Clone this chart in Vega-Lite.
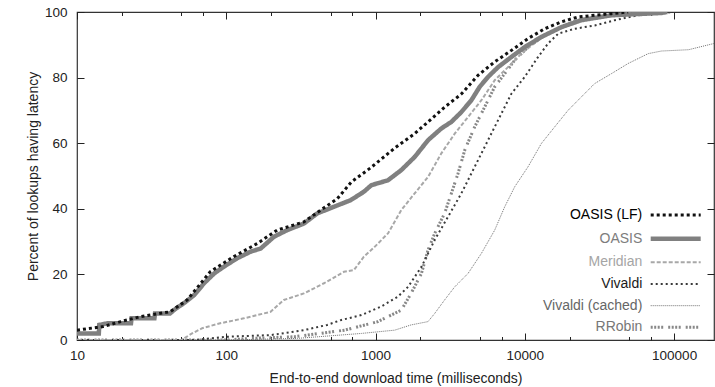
{
  "$schema": "https://vega.github.io/schema/vega-lite/v6.json",
  "width": 637,
  "height": 328,
  "autosize": {"type": "none"},
  "padding": {"left": 77, "top": 12, "right": 1, "bottom": 47},
  "background": "white",
  "config": {
    "font": "Liberation Sans",
    "view": {"stroke": "#333", "strokeWidth": 1.2},
    "axis": {"domain": false, "grid": false, "labelFont": "Liberation Sans", "titleFont": "Liberation Sans", "labelColor": "#222", "titleColor": "#222", "tickColor": "#222", "labelFontSize": 13.5, "titleFontSize": 14, "titleFontWeight": "normal"}
  },
  "data": {"values": [
    {"s":"Vivaldi (cached)","t":10,"p":0},{"s":"Vivaldi (cached)","t":100,"p":0},{"s":"Vivaldi (cached)","t":300,"p":0.5},{"s":"Vivaldi (cached)","t":803,"p":2},{"s":"Vivaldi (cached)","t":1343,"p":3},{"s":"Vivaldi (cached)","t":1730,"p":4.6},{"s":"Vivaldi (cached)","t":2245,"p":5.6},{"s":"Vivaldi (cached)","t":2490,"p":8.1},{"s":"Vivaldi (cached)","t":2900,"p":12.2},{"s":"Vivaldi (cached)","t":3390,"p":16.2},{"s":"Vivaldi (cached)","t":4166,"p":20.3},{"s":"Vivaldi (cached)","t":5117,"p":26.4},{"s":"Vivaldi (cached)","t":6283,"p":33.5},{"s":"Vivaldi (cached)","t":7330,"p":40.6},{"s":"Vivaldi (cached)","t":8550,"p":46.7},{"s":"Vivaldi (cached)","t":10500,"p":52.8},{"s":"Vivaldi (cached)","t":12900,"p":59.9},{"s":"Vivaldi (cached)","t":15860,"p":65},{"s":"Vivaldi (cached)","t":19460,"p":70},{"s":"Vivaldi (cached)","t":23900,"p":74.1},{"s":"Vivaldi (cached)","t":29400,"p":78.2},{"s":"Vivaldi (cached)","t":38000,"p":81.2},{"s":"Vivaldi (cached)","t":49200,"p":84.3},{"s":"Vivaldi (cached)","t":67000,"p":87.3},{"s":"Vivaldi (cached)","t":82200,"p":88.1},{"s":"Vivaldi (cached)","t":125000,"p":88.5},{"s":"Vivaldi (cached)","t":185000,"p":90.4},
    {"s":"RRobin","t":10,"p":0},{"s":"RRobin","t":100,"p":0},{"s":"RRobin","t":150,"p":0.5},{"s":"RRobin","t":287,"p":1},{"s":"RRobin","t":620,"p":3},{"s":"RRobin","t":1035,"p":5.6},{"s":"RRobin","t":1487,"p":9.1},{"s":"RRobin","t":1730,"p":14.2},{"s":"RRobin","t":2030,"p":20.3},{"s":"RRobin","t":2245,"p":27.4},{"s":"RRobin","t":2490,"p":32.5},{"s":"RRobin","t":2900,"p":38.6},{"s":"RRobin","t":3220,"p":44.7},{"s":"RRobin","t":3570,"p":50.8},{"s":"RRobin","t":3960,"p":57.9},{"s":"RRobin","t":4615,"p":65},{"s":"RRobin","t":5390,"p":71.1},{"s":"RRobin","t":6283,"p":77.2},{"s":"RRobin","t":7330,"p":81.2},{"s":"RRobin","t":8550,"p":85.3},{"s":"RRobin","t":10500,"p":89.3},{"s":"RRobin","t":13600,"p":92.9},{"s":"RRobin","t":17600,"p":95.4},{"s":"RRobin","t":22700,"p":97.5},{"s":"RRobin","t":32600,"p":98.7},{"s":"RRobin","t":49200,"p":99.5},{"s":"RRobin","t":89800,"p":100},
    {"s":"Vivaldi","t":10,"p":0},{"s":"Vivaldi","t":60,"p":0},{"s":"Vivaldi","t":101,"p":1},{"s":"Vivaldi","t":198,"p":1.5},{"s":"Vivaldi","t":331,"p":3},{"s":"Vivaldi","t":474,"p":4.6},{"s":"Vivaldi","t":590,"p":6.1},{"s":"Vivaldi","t":803,"p":7.6},{"s":"Vivaldi","t":1090,"p":10.2},{"s":"Vivaldi","t":1411,"p":13.2},{"s":"Vivaldi","t":1650,"p":16.2},{"s":"Vivaldi","t":2030,"p":22.3},{"s":"Vivaldi","t":2490,"p":30.5},{"s":"Vivaldi","t":3060,"p":37.6},{"s":"Vivaldi","t":3757,"p":44.7},{"s":"Vivaldi","t":4615,"p":52.8},{"s":"Vivaldi","t":5666,"p":60.9},{"s":"Vivaldi","t":6960,"p":69},{"s":"Vivaldi","t":8130,"p":75.1},{"s":"Vivaldi","t":9980,"p":80.2},{"s":"Vivaldi","t":12270,"p":86.3},{"s":"Vivaldi","t":14310,"p":90.4},{"s":"Vivaldi","t":16740,"p":93.4},{"s":"Vivaldi","t":21600,"p":94.9},{"s":"Vivaldi","t":29400,"p":95.9},{"s":"Vivaldi","t":40000,"p":97.5},{"s":"Vivaldi","t":57400,"p":99},{"s":"Vivaldi","t":82200,"p":99.7},{"s":"Vivaldi","t":100000,"p":100},
    {"s":"Meridian","t":10,"p":0},{"s":"Meridian","t":50,"p":0},{"s":"Meridian","t":59,"p":2},{"s":"Meridian","t":69,"p":3.6},{"s":"Meridian","t":91,"p":5.1},{"s":"Meridian","t":131,"p":6.6},{"s":"Meridian","t":198,"p":8.6},{"s":"Meridian","t":243,"p":12.2},{"s":"Meridian","t":331,"p":14.2},{"s":"Meridian","t":451,"p":17.3},{"s":"Meridian","t":614,"p":20.8},{"s":"Meridian","t":716,"p":21.3},{"s":"Meridian","t":835,"p":25.4},{"s":"Meridian","t":986,"p":28.4},{"s":"Meridian","t":1211,"p":32.5},{"s":"Meridian","t":1487,"p":39.6},{"s":"Meridian","t":1828,"p":44.7},{"s":"Meridian","t":2245,"p":49.7},{"s":"Meridian","t":2759,"p":56.9},{"s":"Meridian","t":3390,"p":62.9},{"s":"Meridian","t":4166,"p":68},{"s":"Meridian","t":5117,"p":73.1},{"s":"Meridian","t":6283,"p":79.2},{"s":"Meridian","t":7714,"p":83.2},{"s":"Meridian","t":9480,"p":87.3},{"s":"Meridian","t":12270,"p":91.4},{"s":"Meridian","t":15860,"p":94.4},{"s":"Meridian","t":21600,"p":97.5},{"s":"Meridian","t":32600,"p":99},{"s":"Meridian","t":49200,"p":99.7},{"s":"Meridian","t":82200,"p":100},
    {"s":"OASIS","t":10,"p":2},{"s":"OASIS","t":14,"p":2},{"s":"OASIS","t":14.1,"p":4.6},{"s":"OASIS","t":16,"p":5.1},{"s":"OASIS","t":23,"p":5.1},{"s":"OASIS","t":23.2,"p":6.6},{"s":"OASIS","t":33,"p":6.6},{"s":"OASIS","t":33.3,"p":8.1},{"s":"OASIS","t":42,"p":8.1},{"s":"OASIS","t":46,"p":9.6},{"s":"OASIS","t":52,"p":11.2},{"s":"OASIS","t":61,"p":13.7},{"s":"OASIS","t":71,"p":17.3},{"s":"OASIS","t":83,"p":20.3},{"s":"OASIS","t":96,"p":22.3},{"s":"OASIS","t":118,"p":24.9},{"s":"OASIS","t":145,"p":26.9},{"s":"OASIS","t":170,"p":27.9},{"s":"OASIS","t":209,"p":31.5},{"s":"OASIS","t":256,"p":33.5},{"s":"OASIS","t":331,"p":35.5},{"s":"OASIS","t":407,"p":38.6},{"s":"OASIS","t":525,"p":40.6},{"s":"OASIS","t":679,"p":42.6},{"s":"OASIS","t":835,"p":45.2},{"s":"OASIS","t":937,"p":47.2},{"s":"OASIS","t":1211,"p":48.7},{"s":"OASIS","t":1487,"p":51.8},{"s":"OASIS","t":1828,"p":55.8},{"s":"OASIS","t":2245,"p":60.9},{"s":"OASIS","t":2759,"p":64.5},{"s":"OASIS","t":3220,"p":66.5},{"s":"OASIS","t":3757,"p":69.5},{"s":"OASIS","t":4384,"p":73.1},{"s":"OASIS","t":4986,"p":77.2},{"s":"OASIS","t":5666,"p":80.2},{"s":"OASIS","t":6620,"p":83.2},{"s":"OASIS","t":8130,"p":86.3},{"s":"OASIS","t":9980,"p":89.3},{"s":"OASIS","t":12900,"p":92.4},{"s":"OASIS","t":17600,"p":95.4},{"s":"OASIS","t":23900,"p":97.5},{"s":"OASIS","t":38000,"p":99},{"s":"OASIS","t":82200,"p":99.7},{"s":"OASIS","t":90000,"p":100},
    {"s":"OASIS (LF)","t":10,"p":3},{"s":"OASIS (LF)","t":15,"p":4.1},{"s":"OASIS (LF)","t":19.6,"p":5.6},{"s":"OASIS (LF)","t":26.5,"p":7.1},{"s":"OASIS (LF)","t":42,"p":8.6},{"s":"OASIS (LF)","t":54.7,"p":12.2},{"s":"OASIS (LF)","t":78,"p":20.8},{"s":"OASIS (LF)","t":112,"p":25.4},{"s":"OASIS (LF)","t":161,"p":29.4},{"s":"OASIS (LF)","t":219,"p":33.5},{"s":"OASIS (LF)","t":331,"p":36},{"s":"OASIS (LF)","t":429,"p":39.6},{"s":"OASIS (LF)","t":555,"p":43.1},{"s":"OASIS (LF)","t":689,"p":48.2},{"s":"OASIS (LF)","t":927,"p":52.5},{"s":"OASIS (LF)","t":1343,"p":58.5},{"s":"OASIS (LF)","t":1828,"p":62.9},{"s":"OASIS (LF)","t":2245,"p":66.5},{"s":"OASIS (LF)","t":2903,"p":71},{"s":"OASIS (LF)","t":3757,"p":75},{"s":"OASIS (LF)","t":4856,"p":80.7},{"s":"OASIS (LF)","t":6283,"p":84.8},{"s":"OASIS (LF)","t":8130,"p":88.3},{"s":"OASIS (LF)","t":10500,"p":91.9},{"s":"OASIS (LF)","t":13600,"p":94.9},{"s":"OASIS (LF)","t":17600,"p":97},{"s":"OASIS (LF)","t":22700,"p":98.5},{"s":"OASIS (LF)","t":38000,"p":99.5},{"s":"OASIS (LF)","t":49200,"p":100}
  ]},
  "layer": [
    {
      "mark": {"type": "line", "clip": true, "strokeCap": "butt"},
      "encoding": {
        "x": {"field": "t", "type": "quantitative", "scale": {"type": "log", "domain": [10, 185000], "nice": false},
          "axis": {"orient": "bottom", "values": [10,20,50,70,100,200,500,700,1000,2000,5000,7000,10000,20000,50000,70000,100000],
            "labelExpr": "indexof([10,100,1000,10000,100000], datum.value) >= 0 ? format(datum.value, 'd') : ''",
            "labelOverlap": false, "labelFlush": false,
            "tickSize": {"condition": {"test": "indexof([10,100,1000,10000,100000], datum.value) >= 0", "value": -7}, "value": -3.5},
            "labelPadding": 15, "title": "End-to-end download time (milliseconds)", "titlePadding": 6}},
        "y": {"field": "p", "type": "quantitative", "scale": {"domain": [0, 100], "nice": false},
          "axis": {"orient": "left", "values": [0,20,40,60,80,100], "tickSize": -7, "labelPadding": 17, "title": "Percent of lookups having latency", "titlePadding": 4}},
        "color": {"field": "s", "type": "nominal",
          "scale": {"domain": ["OASIS (LF)","OASIS","Meridian","Vivaldi","Vivaldi (cached)","RRobin"], "range": ["#111111","#808080","#a8a8a8","#3a3a3a","#707070","#888888"]},
          "legend": {"orient": "none", "legendX": 566.7, "legendY": 196, "title": null, "symbolType": "M0,0H11.11", "symbolSize": 81, "rowPadding": 7.67, "labelAlign": "right", "labelOffset": -15.4, "labelFont": "Liberation Sans", "labelFontSize": 14, "labelLimit": 0, "padding": 0,
            "encode": {"labels": {"update": {"fill": {"signal": "datum.value === 'OASIS (LF)' ? '#000000' : datum.value === 'OASIS' ? '#7d7d7d' : datum.value === 'Meridian' ? '#a5a5a5' : datum.value === 'Vivaldi' ? '#1a1a1a' : datum.value === 'Vivaldi (cached)' ? '#666666' : '#777777'"}}}}}},
        "strokeDash": {"field": "s", "type": "nominal",
          "scale": {"domain": ["OASIS (LF)","OASIS","Meridian","Vivaldi","Vivaldi (cached)","RRobin"], "range": [[3,3],[1,0],[4,2],[2,3],[1,1],[2,1.5,2,1.5,2,1.5,2,5]]}},
        "strokeWidth": {"field": "s", "type": "nominal",
          "scale": {"type": "ordinal", "domain": ["OASIS (LF)","OASIS","Meridian","Vivaldi","Vivaldi (cached)","RRobin"], "range": [3,4.5,2,2,1,3]}}
      }
    },
    {
      "mark": {"type": "line", "strokeOpacity": 0},
      "encoding": {
        "x": {"field": "t", "type": "quantitative", "axis": {"orient": "top", "values": [10,20,50,70,100,200,500,700,1000,2000,5000,7000,10000,20000,50000,70000,100000], "labels": false, "title": null,
            "tickSize": {"condition": {"test": "indexof([10,100,1000,10000,100000], datum.value) >= 0", "value": -7}, "value": -3.5}}},
        "y": {"field": "p", "type": "quantitative", "axis": {"orient": "right", "values": [0,20,40,60,80,100], "labels": false, "title": null, "tickSize": -7}},
        "detail": {"field": "s"}
      }
    }
  ],
  "resolve": {"axis": {"x": "independent", "y": "independent"}}
}
